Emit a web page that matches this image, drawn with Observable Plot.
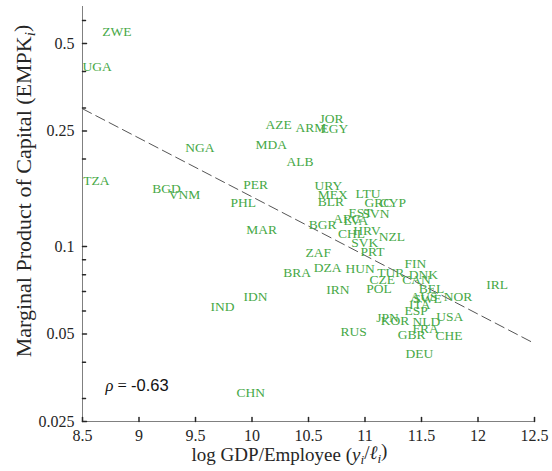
<!DOCTYPE html>
<html><head><meta charset="utf-8">
<script src="https://cdn.jsdelivr.net/npm/d3@7"></script>
<script src="https://cdn.jsdelivr.net/npm/@observablehq/plot@0.6"></script>
<style>body{margin:0;background:#fff;}</style>
</head><body><div id="chart"></div>
<script>
const countries = ["ZWE","UGA","TZA","NGA","BGD","VNM","IND","IDN","CHN","PER","PHL","MAR","MDA","AZE","ALB","ARM","JOR","EGY","URY","MEX","BLR","BGR","ZAF","BRA","DZA","IRN","RUS","HUN","ARG","LVA","EST","SVN","LTU","GRC","CYP","CHL","HRV","SVK","NZL","PRT","TUR","CZE","POL","FIN","DNK","CAN","BEL","NOR","IRL","AUS","SWE","ITA","ESP","USA","JPN","KOR","NLD","FRA","GBR","CHE","DEU"];
const logGdpPerEmployee = [8.674,8.50,8.506,9.41,9.117,9.264,9.633,9.925,9.863,9.922,9.81,9.949,10.03,10.12,10.305,10.385,10.597,10.606,10.553,10.582,10.582,10.503,10.473,10.276,10.547,10.657,10.783,10.827,10.719,10.81,10.854,10.978,10.916,10.996,11.131,10.76,10.896,10.878,11.122,10.96,11.108,11.04,11.01,11.35,11.388,11.33,11.476,11.697,12.073,11.403,11.426,11.39,11.35,11.63,11.10,11.14,11.42,11.42,11.29,11.624,11.358];
const empk = [0.550,0.417,0.168,0.2196,0.158,0.1506,0.0622,0.0673,0.0315,0.163,0.142,0.114,0.224,0.263,0.1966,0.257,0.275,0.254,0.162,0.1506,0.143,0.119,0.0956,0.081,0.0849,0.0711,0.0511,0.0838,0.1246,0.1229,0.131,0.130,0.1526,0.142,0.142,0.111,0.1135,0.1035,0.108,0.0961,0.081,0.077,0.0719,0.0872,0.080,0.077,0.0716,0.0673,0.0738,0.0673,0.0661,0.0632,0.0602,0.0574,0.0571,0.0557,0.0552,0.0521,0.0498,0.0494,0.0427];
const fitX = [8.5, 12.5];
const fitY = [0.298, 0.0464];
const rho = -0.63;
const xTicks = [8.5, 9, 9.5, 10, 10.5, 11, 11.5, 12, 12.5];
const xTickLabels = ["8.5","9","9.5","10","10.5","11","11.5","12","12.5"];
const yTicks = [0.025, 0.05, 0.1, 0.25, 0.5];
const yTickLabels = ["0.025","0.05","0.1","0.25","0.5"];
const yMinorTicks = [0.03, 0.04, 0.06, 0.07, 0.08, 0.09, 0.2, 0.3, 0.4, 0.6];
const xTitle = "log GDP/Employee (y/ℓ)";
const yTitle = "Marginal Product of Capital (EMPK)";

const data = countries.map((c, i) => ({c, x: logGdpPerEmployee[i], y: empk[i]}));
const fit = fitX.map((x, i) => ({x, y: fitY[i]}));
const tickLine = {draw(ctx, l) { ctx.moveTo(0, 0); ctx.lineTo(0, -l); }};
const serif = "'Liberation Serif', 'Times New Roman', serif";
const ink = "#262626";

const plot = Plot.plot({
  width: 552, height: 471,
  marginLeft: 82, marginRight: 18, marginTop: 6, marginBottom: 50,
  style: {background: "#fff", fontFamily: serif, color: ink},
  x: {domain: [8.5, 12.5], label: null},
  y: {type: "log", domain: [0.025, 0.67], label: null},
  marks: [
    Plot.line(fit, {x: "x", y: "y", stroke: "#555", strokeWidth: 1, strokeDasharray: "10,5"}),
    Plot.text(data, {x: "x", y: "y", text: "c", textAnchor: "start", lineAnchor: "middle", fill: "#46a846", fontSize: 13.5, fontFamily: serif}),
    Plot.ruleX([8.5], {stroke: "#808080", strokeWidth: 1}),
    Plot.ruleY([0.025], {stroke: "#808080", strokeWidth: 1}),
    Plot.vector(xTicks, {x: d => d, frameAnchor: "bottom", length: 4, rotate: 0, anchor: "start", shape: tickLine, stroke: ink}),
    Plot.vector(yTicks, {y: d => d, frameAnchor: "left", length: 4, rotate: 90, anchor: "start", shape: tickLine, stroke: ink}),
    Plot.vector(yMinorTicks, {y: d => d, frameAnchor: "left", length: 3, rotate: 90, anchor: "start", shape: tickLine, stroke: ink}),
    Plot.axisX(xTicks, {tickSize: 0, tickPadding: 8, tickFormat: d => xTickLabels[xTicks.indexOf(d)], fontSize: 16, fill: ink, label: null}),
    Plot.axisY(yTicks, {tickSize: 0, tickPadding: 8, tickFormat: d => yTickLabels[yTicks.indexOf(d)], fontSize: 16, fill: ink, label: null}),
    Plot.text([xTitle], {frameAnchor: "bottom", text: d => d, textAnchor: "middle", dx: -19, dy: 33, fontSize: 19, fill: ink, lineAnchor: "middle"}),
    Plot.text([yTitle], {frameAnchor: "left", text: d => d, textAnchor: "middle", dx: -59, dy: -23, rotate: -90, fontSize: 22, fill: ink, lineAnchor: "middle"}),
    Plot.text([rho], {frameAnchor: "bottom-left", text: d => "ρ = " + d, dx: 23, dy: -36, textAnchor: "start", lineAnchor: "middle", fontSize: 16.5, fill: "#111"})
  ]
});
document.getElementById("chart").append(plot);

function rich(content, parts) {
  const t = d3.select(plot).selectAll("text").filter(function() { return this.textContent === content; });
  t.text(null);
  let shifted = false;
  for (const p of parts) {
    const s = t.append("tspan").text(p.t);
    if (p.italic) s.attr("font-style", "italic");
    if (p.family) s.attr("font-family", p.family);
    if (p.sub) { s.attr("font-size", "70%").attr("dy", "0.28em"); shifted = true; }
    else if (shifted) { s.attr("dy", "-0.28em"); shifted = false; }
  }
}
rich(xTitle, [{t: "log GDP/Employee ("}, {t: "y", italic: true}, {t: "i", italic: true, sub: true}, {t: "/"}, {t: "ℓ", italic: true}, {t: "i", italic: true, sub: true}, {t: ")"}]);
rich(yTitle, [{t: "Marginal Product of Capital (EMPK"}, {t: "i", italic: true, sub: true}, {t: ")"}]);
rich("ρ = " + rho, [{t: "ρ", italic: true}, {t: " = "}, {t: String(rho), family: "'Liberation Sans', Arial, sans-serif"}]);
</script>
</body></html>
